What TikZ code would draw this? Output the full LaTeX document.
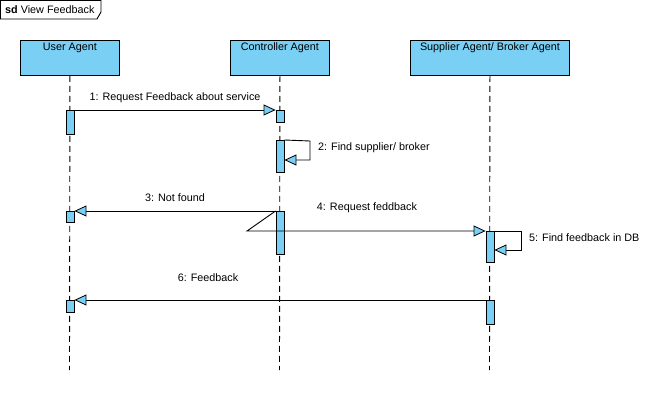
\documentclass[tikz,border=0pt]{standalone}
\usepackage{fontspec}
\setmainfont{Liberation Sans}
\usetikzlibrary{arrows.meta}
\definecolor{cblue}{RGB}{122,207,245}
\begin{document}
\begin{tikzpicture}[x=1pt,y=-1pt,
  every node/.style={font=\fontsize{10.8}{13}\selectfont, inner sep=0pt},
  headbox/.style={draw=black, fill=cblue, line width=0.9pt, minimum width=99pt, minimum height=35pt, anchor=north west},
  act/.style={draw=black, fill=cblue, line width=0.8pt, minimum width=8pt, anchor=north},
  lifeline/.style={draw=black, line width=0.9pt, dash pattern=on 6pt off 4pt},
  msg/.style={draw=black, line width=0.9pt, -{Triangle[length=12pt,width=11pt,fill=cblue,line width=0.8pt]}},
  lbl/.style={text=black}
]
\useasboundingbox (0,0) rectangle (651,409);
\fill[white] (0,0) rectangle (651,409);
% frame tab
\draw[line width=0.9pt] (0.5,0.5) -- (101,0.5) -- (101,12) -- (97,19) -- (0.5,19) -- cycle;
\node[anchor=west] (tab) at (5,10) {\textbf{sd} View Feedback};
% lifeline heads
\node[headbox] (uh) at (20,40) {};
\node[headbox] (ch) at (230,40) {};
\node[headbox, minimum width=159pt] (sh) at (410,40) {};
\node[anchor=base] (uht) at ([yshift=-11pt]uh.north) {User Agent};
\node[anchor=base] (cht) at ([yshift=-11pt]ch.north) {Controller Agent};
\node[anchor=base] (sht) at ([yshift=-11pt]sh.north) {Supplier Agent/ Broker Agent};
% lifelines
\coordinate (ue) at (69.5,370);
\coordinate (ce) at (279.5,370);
\coordinate (se) at (489.5,370);
\draw[lifeline] (uh.south) -- (ue);
\draw[lifeline] (ch.south) -- (ce);
\draw[lifeline] (sh.south) -- (se);
% activations
\node[act, minimum height=24pt] (ua1) at (70,110) {};
\node[act, minimum height=12pt] (ca1) at (280,110) {};
\node[act, minimum height=32pt] (ca2) at (280,140) {};
\node[act, minimum height=11pt] (ua3) at (70,211) {};
\node[act, minimum height=43pt] (ca3) at (280,211) {};
\node[act, minimum height=31pt] (sa1) at (490,231) {};
\node[act, minimum height=12pt] (ua4) at (70,300) {};
\node[act, minimum height=24pt] (sa2) at (490,300) {};
% messages
\draw[msg] (ua1.north east) -- (ca1.north west);
\node[lbl] (m1) at (175,98) {1: Request Feedback about service};
\coordinate (s2a) at (310,141);
\coordinate (s2b) at (310,160);
\draw[msg] (ca2.north east) -- (s2a) -- (s2b) -- (ca2.east |- s2b);
\node[lbl, anchor=west] (m2) at (318,148) {2: Find supplier/ broker};
\draw[msg] (ca3.north west) -- (ua3.north east);
\node[lbl] (m3) at (175,198) {3: Not found};
\coordinate (bend4) at (247,231);
\draw[msg] (ca3.north west) -- (bend4) -- (sa1.north west);
\node[lbl] (m4) at (367,208) {4: Request feddback};
\coordinate (s5a) at (521,231);
\coordinate (s5b) at (521,250);
\draw[msg] (sa1.north east) -- (s5a) -- (s5b) -- (sa1.east |- s5b);
\node[lbl, anchor=west] (m5) at (529,238) {5: Find feedback in DB};
\draw[msg] (sa2.north west) -- (ua4.north east);
\node[lbl] (m6) at (208,278) {6: Feedback};
\end{tikzpicture}
\end{document}
